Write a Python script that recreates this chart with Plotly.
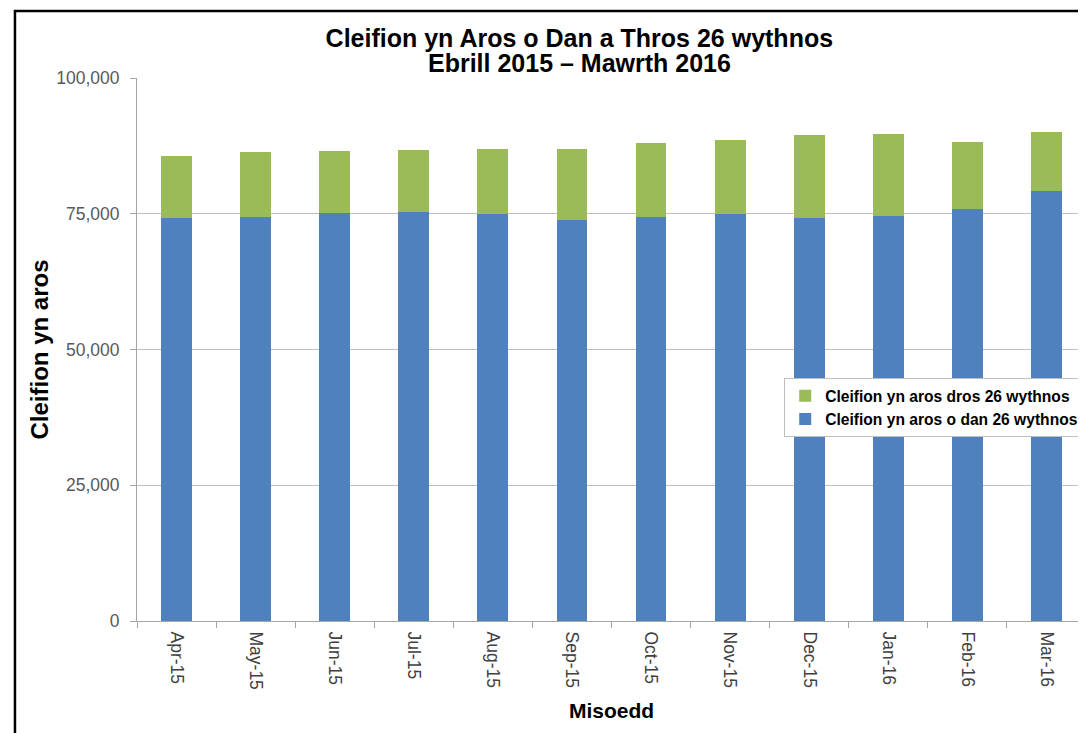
import plotly.graph_objects as go

months = ["Apr-15", "May-15", "Jun-15", "Jul-15", "Aug-15", "Sep-15",
          "Oct-15", "Nov-15", "Dec-15", "Jan-16", "Feb-16", "Mar-16"]
under_26 = [74260, 74450, 75180, 75310, 74950, 73900,
            74450, 75000, 74260, 74520, 75870, 79120]
over_26 = [11360, 11910, 11310, 11360, 12020, 12960,
           13620, 13620, 15230, 15210, 12380, 10880]

FONT = "Liberation Sans, Arial, sans-serif"

fig = go.Figure()
fig.add_trace(go.Bar(x=months, y=under_26, name="Cleifion yn aros o dan 26 wythnos",
                     marker=dict(color="#4F81BD", line=dict(width=0))))
fig.add_trace(go.Bar(x=months, y=over_26, name="Cleifion yn aros dros 26 wythnos",
                     marker=dict(color="#9BBB59", line=dict(width=0))))

fig.update_layout(
    width=1078, height=725,
    barmode="stack", bargap=0.61,
    paper_bgcolor="white", plot_bgcolor="white",
    margin=dict(l=129, r=0, t=70, b=112),
    font=dict(family=FONT),
    title=dict(text="<b>Cleifion yn Aros o Dan a Thros 26 wythnos</b>",
               x=0.530, xanchor="center", y=1 - 30 / 725, yanchor="middle",
               font=dict(size=25, color="black", family=FONT)),
    annotations=[dict(text="<b>Ebrill 2015 – Mawrth 2016</b>", xref="paper", yref="paper",
                      x=(571 - 129) / 949, y=(613 - 55) / 543, xanchor="center", yanchor="middle",
                      showarrow=False, font=dict(size=25, color="black", family=FONT))],
    showlegend=True,
    legend=dict(traceorder="reversed", x=0.682, y=0.4475, xanchor="left", yanchor="top",
                bgcolor="white", bordercolor="#BFBFBF", borderwidth=1,
                font=dict(size=15.6, color="black", family=FONT, weight="bold"),
                itemwidth=30, tracegroupgap=0),
    xaxis=dict(
        title=dict(text="<b>Misoedd</b>", font=dict(size=21, color="black"), standoff=14),
        tickangle=90, tickfont=dict(size=17.5, color="#404040"),
        ticklabelstandoff=6,
        showline=True, linecolor="#A6A6A6", linewidth=1,
        ticks="outside", tickson="boundaries", ticklen=6, tickcolor="#A6A6A6",
        showgrid=False,
    ),
    yaxis=dict(
        title=dict(text="<b>Cleifion yn aros</b>", font=dict(size=24, color="black"), standoff=0),
        range=[0, 100000], tickvals=[0, 25000, 50000, 75000, 100000],
        tickformat=",", tickfont=dict(size=17.5, color="#595959"),
        ticklabelstandoff=7,
        showline=True, linecolor="#A6A6A6", linewidth=1,
        ticks="outside", ticklen=6, tickcolor="#A6A6A6",
        showgrid=True, gridcolor="#BFBFBF", gridwidth=1, zeroline=False,
    ),
    shapes=[dict(type="rect", xref="paper", yref="paper",
                 x0=-0.1286, x1=1.05, y0=-0.5, y1=1.1234,
                 line=dict(color="black", width=2.5), fillcolor="rgba(0,0,0,0)")],
)

fig.write_html("out.html")
